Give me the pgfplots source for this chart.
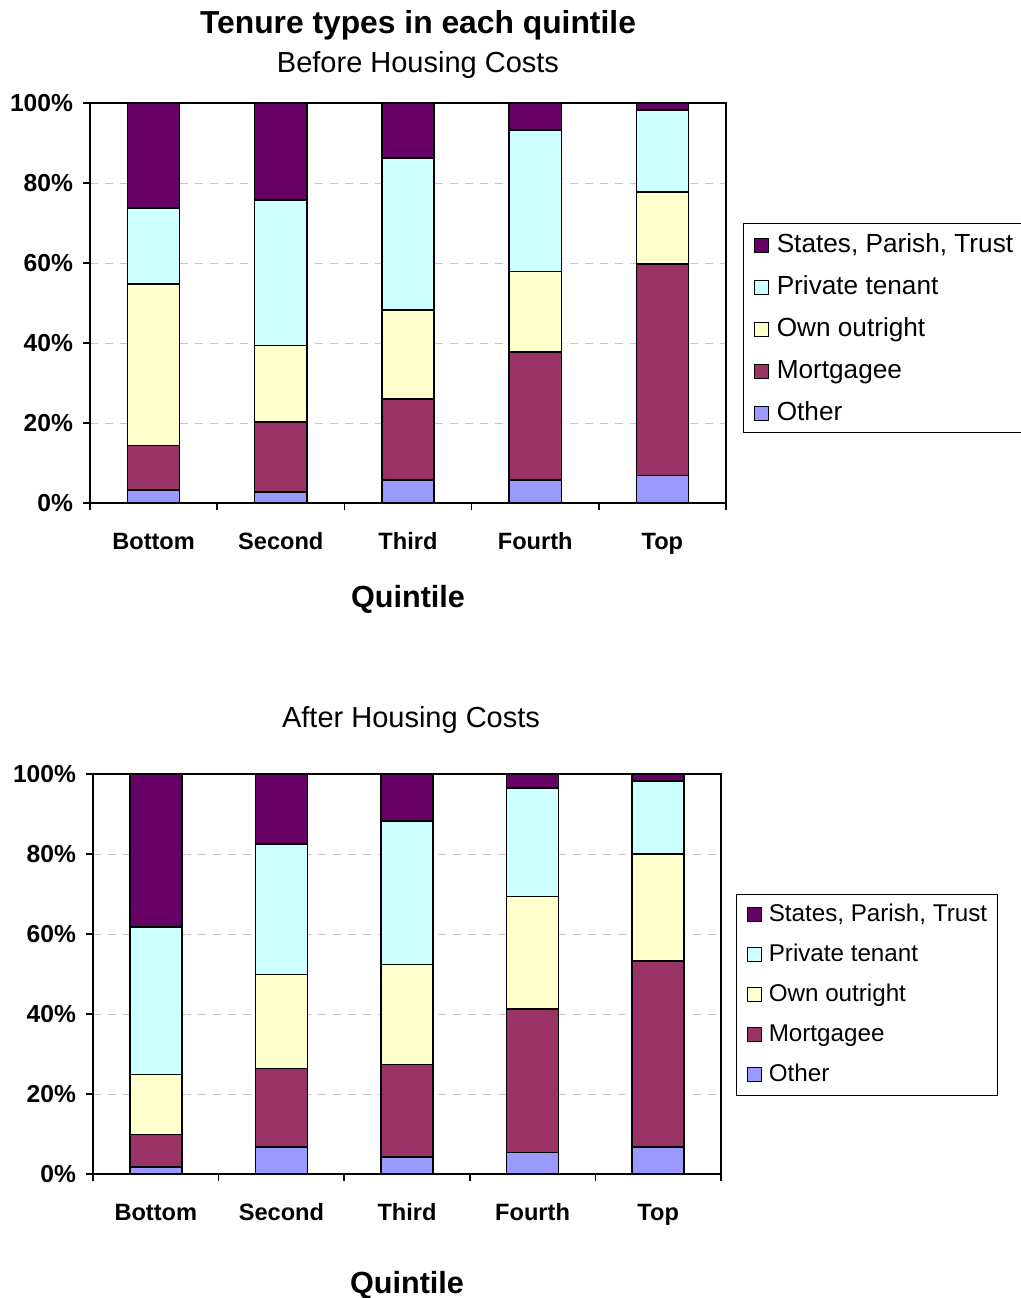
\documentclass[border=0pt]{standalone}
\usepackage{pgfplots}
\usepackage{pgfplotstable}
\pgfplotsset{compat=1.18}
\usepackage{fontspec}
\setmainfont{Liberation Sans}

\definecolor{cState}{HTML}{660066}
\definecolor{cPriv}{HTML}{CCFFFF}
\definecolor{cOwn}{HTML}{FFFFCC}
\definecolor{cMort}{HTML}{993366}
\definecolor{cOther}{HTML}{9999FF}

% Share of each tenure type (%) per income quintile, 0 = Bottom ... 4 = Top
\pgfplotstableread{
x other mort own priv state
0 3.3  11.1 40.4 19.0 26.2
1 2.8  17.5 19.1 36.4 24.2
2 5.8  20.2 22.3 38.0 13.7
3 5.8  32.0 20.1 35.4 6.7
4 6.9  52.9 18.0 20.5 1.7
}\bhc
\pgfplotstableread{
x other mort own priv state
0 1.8  8.1  15.0 36.9 38.2
1 6.8  19.6 23.5 32.6 17.5
2 4.3  23.1 25.0 35.9 11.7
3 5.4  35.9 28.1 27.1 3.5
4 6.8  46.5 26.7 18.3 1.7
}\ahc

\pgfplotsset{
  tenure/.style={fill=#1, draw=black, line width=0.75pt,
    legend image code/.code={\draw[fill=#1,draw=black,line width=0.6pt] (0pt,0pt) rectangle (7pt,7pt);}},
  quintile/.style={
    scale only axis,
    height=200pt,
    ybar stacked,
    ymin=0, ymax=100, xmin=-0.5, xmax=4.5,
    axis line style={line width=0.9pt},
    tick pos=left,
    tick align=outside,
    major tick length=3.5pt,
    tick style={black, line width=0.75pt},
    xtick={-0.5,0.5,1.5,2.5,3.5,4.5},
    x tick label as interval,
    xticklabels={Bottom,Second,Third,Fourth,Top},
    ytick={0,20,40,60,80,100},
    yticklabels={0\%,20\%,40\%,60\%,80\%,100\%},
    ymajorgrids,
    grid style={gray!45, line width=0.5pt, dash pattern=on 4pt off 3.5pt},
    xticklabel style={font=\bfseries\fontsize{11.8}{14}\selectfont,
      text height=9pt, text depth=2.5pt, yshift=-7pt},
    yticklabel style={font=\bfseries\fontsize{12.3}{14}\selectfont, xshift=-1.5pt},
    xlabel={Quintile},
    xlabel style={font=\bfseries\fontsize{15.3}{18}\selectfont, anchor=center},
    reverse legend,
    legend cell align=left,
    legend style={anchor=north west, draw=black, line width=0.6pt,
      inner xsep=5pt, inner ysep=3pt},
  }
}

\begin{document}
\begin{tikzpicture}
\useasboundingbox (0pt,0pt) rectangle (510.5pt,-649pt);

\node[font=\bfseries\fontsize{15.9}{18}\selectfont] at (209pt,-12.5pt) {Tenure types in each quintile};
\node[font=\fontsize{14.5}{17}\selectfont] at (209pt,-32.5pt) {Before Housing Costs};

\begin{axis}[quintile,
  at={(45pt,-251.5pt)}, anchor=south west, width=318pt,
  bar width=0.41,
  xlabel style={at={(axis description cs:0.5,-0.24)}},
  legend style={at={(1.0267,0.7)}, font=\fontsize{13.1}{15}\selectfont, row sep=6.5pt,
    nodes={inner sep=0pt, text height=11.5pt, text depth=3pt, anchor=base west},
    /tikz/every odd column/.append style={column sep=4pt}},
]
\addplot[tenure=cOther] table[x=x,y=other] {\bhc};
\addplot[tenure=cMort]  table[x=x,y=mort]  {\bhc};
\addplot[tenure=cOwn]   table[x=x,y=own]   {\bhc};
\addplot[tenure=cPriv]  table[x=x,y=priv]  {\bhc};
\addplot[tenure=cState] table[x=x,y=state] {\bhc};
\legend{Other,Mortgagee,Own outright,Private tenant,{States, Parish, Trust}}
\end{axis}

\node[font=\fontsize{14.5}{17}\selectfont] at (205.5pt,-360pt) {After Housing Costs};

\begin{axis}[quintile,
  at={(46.5pt,-587pt)}, anchor=south west, width=314pt,
  bar width=0.414,
  xlabel style={at={(axis description cs:0.5,-0.2775)}},
  legend style={at={(1.0239,0.7)}, font=\fontsize{12.1}{15}\selectfont, row sep=7.5pt,
    inner ysep=4pt,
    nodes={inner sep=0pt, text height=9.5pt, text depth=3pt, anchor=base west},
    /tikz/every odd column/.append style={column sep=3.5pt}},
]
\addplot[tenure=cOther] table[x=x,y=other] {\ahc};
\addplot[tenure=cMort]  table[x=x,y=mort]  {\ahc};
\addplot[tenure=cOwn]   table[x=x,y=own]   {\ahc};
\addplot[tenure=cPriv]  table[x=x,y=priv]  {\ahc};
\addplot[tenure=cState] table[x=x,y=state] {\ahc};
\legend{Other,Mortgagee,Own outright,Private tenant,{States, Parish, Trust}}
\end{axis}
\end{tikzpicture}
\end{document}
